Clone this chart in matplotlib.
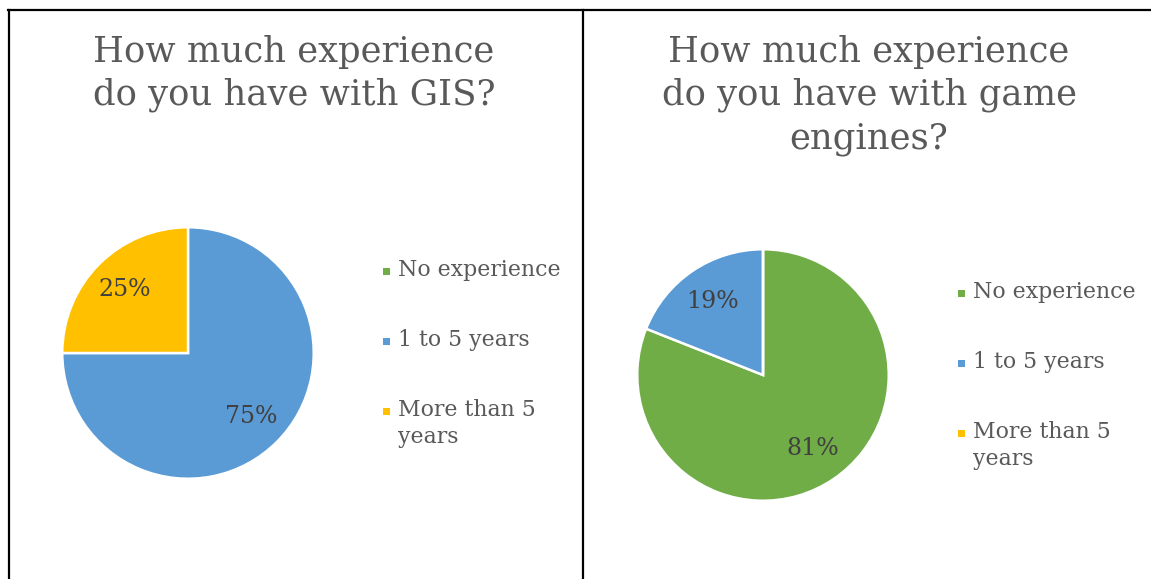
import matplotlib
matplotlib.use("Agg")
import matplotlib.pyplot as plt
from matplotlib.patches import Rectangle
from matplotlib.lines import Line2D

categories = ["No experience", "1 to 5 years", "More than 5 years"]
legend_labels = ["No experience", "1 to 5 years", "More than 5\nyears"]
colors = ["#70AD47", "#5B9BD5", "#FFC000"]
gis_values = [0, 75, 25]
engine_values = [81, 19, 0]
titles = ["How much experience\ndo you have with GIS?",
          "How much experience\ndo you have with game\nengines?"]

W, H = 1151, 579
plt.rcParams['font.family'] = ['DejaVu Serif']
fig = plt.figure(figsize=(W / 100, H / 100), dpi=100)
fig.patch.set_facecolor("white")

def fx(px):
    return px / W

def fy(py):
    return 1 - py / H

TEXT = "#595959"
LBL = "#404040"

panels = [
    dict(values=gis_values, title=titles[0], cx=188, cy=353, tx=294, ty=35, lx=386, ly=271),
    dict(values=engine_values, title=titles[1], cx=763, cy=375, tx=869, ty=35, lx=961, ly=293),
]
R = 127

def fmt(p):
    return f"{p:.0f}%" if p > 0.5 else ""

for p in panels:
    ax = fig.add_axes([fx(p['cx'] - R), fy(p['cy'] + R), fx(2 * R), 2 * R / H])
    wedges, texts, autotexts = ax.pie(
        p['values'], colors=colors, startangle=90, counterclock=False,
        autopct=fmt, pctdistance=0.71,
        wedgeprops=dict(edgecolor="white", linewidth=1.8),
        textprops=dict(color=LBL, fontsize=17))
    ax.set_xlim(-1.01, 1.01)
    ax.set_ylim(-1.01, 1.01)
    ax.set_aspect('equal')
    ax.axis('off')
    fig.text(fx(p['tx']), fy(p['ty']), p['title'], ha='center', va='top',
             fontsize=25.5, color=TEXT, linespacing=1.33)
    for i, (lab, col) in enumerate(zip(legend_labels, colors)):
        y = p['ly'] + i * 70
        fig.patches.append(Rectangle((fx(p['lx'] - 3), fy(y + 4)), fx(7), 7 / H,
                                     transform=fig.transFigure, facecolor=col,
                                     edgecolor='none'))
        fig.text(fx(p['lx'] + 12), fy(y - 12), lab, ha='left', va='top',
                 fontsize=15.8, color=TEXT, linespacing=1.28)

# frame lines
lw = 1.6
fig.lines.append(Line2D([fx(8), fx(W)], [fy(10), fy(10)], transform=fig.transFigure,
                        color='black', lw=lw))
fig.lines.append(Line2D([fx(9), fx(9)], [fy(10), fy(H)], transform=fig.transFigure,
                        color='black', lw=lw))
fig.lines.append(Line2D([fx(583), fx(583)], [fy(10), fy(H)], transform=fig.transFigure,
                        color='black', lw=lw))

fig.savefig("out.png", dpi=100)
